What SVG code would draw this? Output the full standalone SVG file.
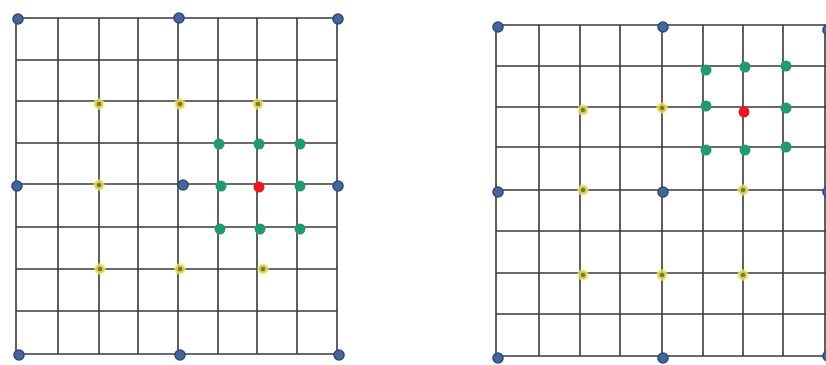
<svg xmlns="http://www.w3.org/2000/svg" width="826" height="365" viewBox="0 0 826 365">
<style>
.g{stroke:#3a3a3a;stroke-width:1.6;fill:none}
.b{fill:#46659a;stroke:#2d4a7c;stroke-width:1.6}
.y{fill:#7d7a22;stroke:#f2e672;stroke-width:3.5;stroke-opacity:0.75}
.gr{fill:#229a6c}
.r{fill:#ea1720}
</style>
<rect width="826" height="365" fill="#ffffff"/>
<g id="left-grid">
<path class="g" d="M16,18V354M58,18V354M99,18V354M138,18V354M178,18V354M218,18V354M257,18V354M297,18V354M337,18V354"/>
<path class="g" d="M16,18H337M16,60H337M16,101H337M16,143H337M16,184H337M16,227H337M16,269H337M16,311H337M16,354H337"/>
</g>
<g id="left-nodes">
<g id="lb"><circle class="b" cx="18" cy="19" r="5"/><circle class="b" cx="179" cy="18" r="5"/><circle class="b" cx="338" cy="19" r="5"/><circle class="b" cx="17" cy="186" r="5"/><circle class="b" cx="183" cy="185" r="5"/><circle class="b" cx="338" cy="186" r="5"/><circle class="b" cx="19" cy="355" r="5"/><circle class="b" cx="180" cy="355" r="5"/><circle class="b" cx="339" cy="355" r="5"/></g>
<g id="ly"><circle class="y" cx="99" cy="104" r="4"/><circle class="y" cx="180" cy="104" r="4"/><circle class="y" cx="258" cy="104" r="4"/><circle class="y" cx="99" cy="185" r="4"/><circle class="y" cx="100" cy="269" r="4"/><circle class="y" cx="180" cy="269" r="4"/><circle class="y" cx="263" cy="269" r="4"/></g>
<g id="lg"><circle class="gr" cx="219" cy="144" r="5.5"/><circle class="gr" cx="259" cy="144" r="5.5"/><circle class="gr" cx="300" cy="144" r="5.5"/><circle class="gr" cx="221" cy="186" r="5.5"/><circle class="gr" cx="300" cy="186" r="5.5"/><circle class="gr" cx="220" cy="229" r="5.5"/><circle class="gr" cx="260" cy="229" r="5.5"/><circle class="gr" cx="300" cy="229" r="5.5"/></g>
<g id="lr"><circle class="r" cx="259" cy="187" r="5.5"/></g>
</g>
<g id="right-grid">
<path class="g" d="M496,25V356M539,25V356M580,25V356M620,25V356M662,25V356M703,25V356M743,25V356M783,25V356M825,25V356"/>
<path class="g" d="M496,25H826M496,66H826M496,107H826M496,147H826M496,190H826M496,231H826M496,273H826M496,314H826M496,356H826"/>
</g>
<g id="right-nodes">
<g id="rb"><circle class="b" cx="498" cy="27" r="5"/><circle class="b" cx="663" cy="27" r="5"/><circle class="b" cx="828" cy="30" r="5"/><circle class="b" cx="498" cy="192" r="5"/><circle class="b" cx="663" cy="192" r="5"/><circle class="b" cx="828" cy="192" r="5"/><circle class="b" cx="498" cy="358" r="5"/><circle class="b" cx="663" cy="358" r="5"/><circle class="b" cx="828" cy="356" r="5"/></g>
<g id="ry"><circle class="y" cx="583" cy="110" r="4"/><circle class="y" cx="662" cy="108" r="4"/><circle class="y" cx="583" cy="190" r="4"/><circle class="y" cx="743" cy="190" r="4"/><circle class="y" cx="583" cy="275" r="4"/><circle class="y" cx="662" cy="275" r="4"/><circle class="y" cx="743" cy="275" r="4"/></g>
<g id="rg"><circle class="gr" cx="706" cy="70" r="5.5"/><circle class="gr" cx="745" cy="67" r="5.5"/><circle class="gr" cx="786" cy="66" r="5.5"/><circle class="gr" cx="706" cy="106" r="5.5"/><circle class="gr" cx="786" cy="108" r="5.5"/><circle class="gr" cx="706" cy="150" r="5.5"/><circle class="gr" cx="745" cy="150" r="5.5"/><circle class="gr" cx="786" cy="147" r="5.5"/></g>
<g id="rr"><circle class="r" cx="744" cy="112" r="5.5"/></g>
</g>
</svg>
